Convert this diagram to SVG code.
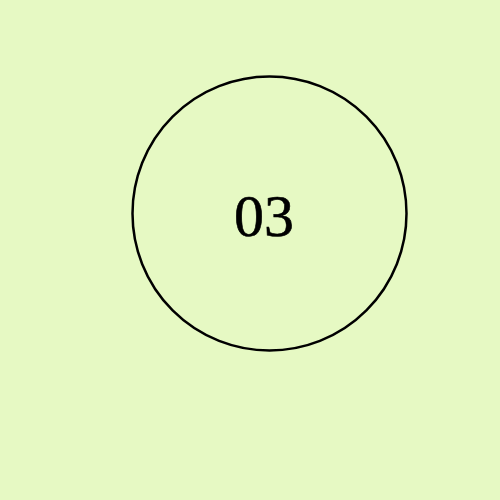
<svg xmlns="http://www.w3.org/2000/svg" width="500" height="500" viewBox="0 0 500 500">
<style>
.node-shape{fill:none;stroke:#000;stroke-width:2.5}
.label{font-family:"Liberation Serif","DejaVu Serif",serif;font-size:60px;fill:#000;stroke:#000;stroke-width:0.6;text-anchor:middle;font-variant-numeric:oldstyle-nums}
</style>
<rect width="500" height="500" fill="#e6f9c3"/>
<g id="connectors"></g>
<g id="node-03">
<circle class="node-shape" cx="269.5" cy="213.5" r="137"/>
<text class="label" x="264" y="236">03</text>
</g>
</svg>
